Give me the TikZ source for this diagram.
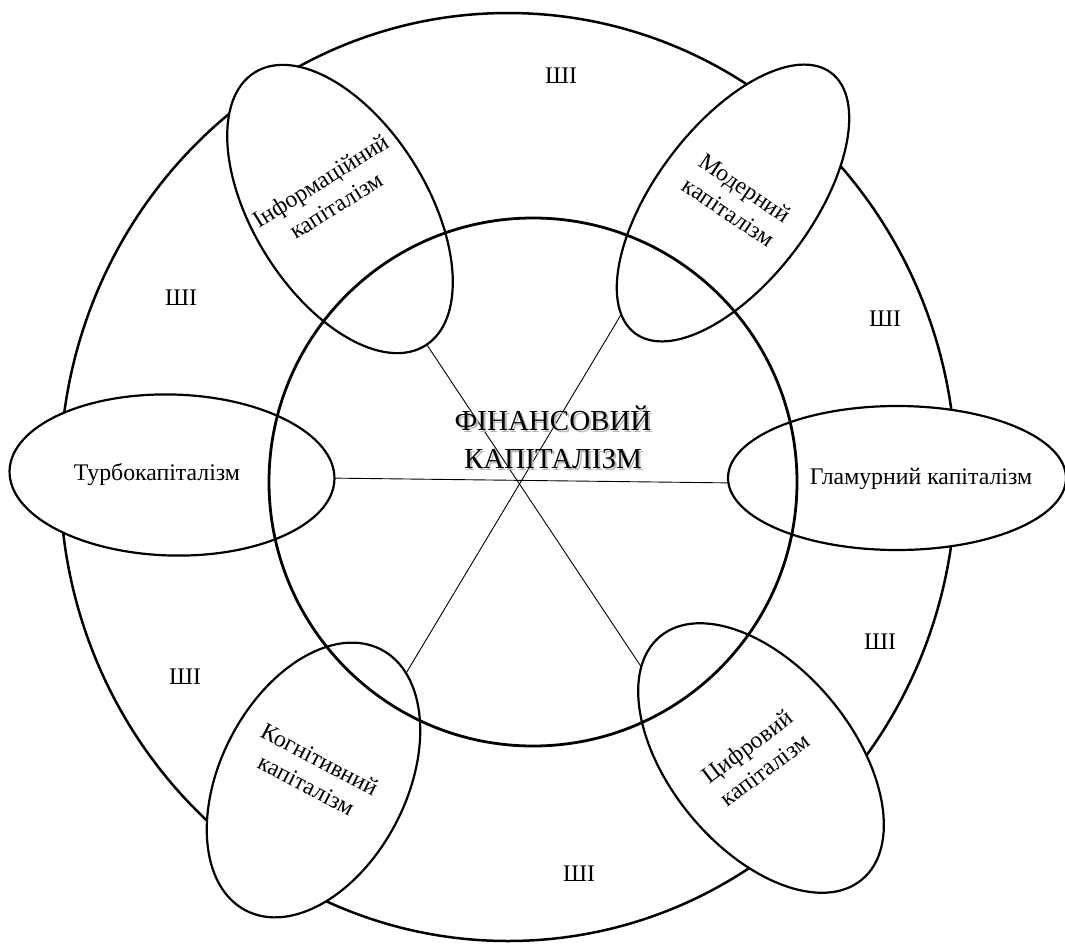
\documentclass[tikz,border=0pt]{standalone}
\usepackage{fontspec}
\setmainfont{Liberation Serif}
\usetikzlibrary{shapes.geometric}
\begin{document}
\begin{tikzpicture}[x=1pt,y=-1pt,
  oval/.style={draw, ellipse, fill=white, line width=2.2pt, inner sep=0pt},
  lbl/.style={font=\fontsize{23.8}{29}\selectfont, align=center, inner sep=0pt},
  ai/.style={font=\fontsize{23.8}{26}\selectfont, inner sep=0pt},
  spoke/.style={line width=0.9pt},
  ring/.style={line width=2.5pt},
  bigtext/.style={font=\fontsize{29}{38}\selectfont, align=center, inner sep=0pt}]
\useasboundingbox (0,0) rectangle (1065,945);
% outer ring
\draw[ring] (508,477) ellipse [x radius=448, y radius=464];
% spokes (ends hidden under the filled ovals)
\coordinate (s1a) at (421,336);
\coordinate (s1b) at (648,677);
\coordinate (s2a) at (631,298);
\coordinate (s2b) at (402,680);
\coordinate (s3a) at (325,478);
\coordinate (s3b) at (738,483);
\draw[spoke] (s1a) -- (s1b);
\draw[spoke] (s2a) -- (s2b);
\draw[spoke] (s3a) -- (s3b);
% ovals
\node[oval, minimum width=325pt, minimum height=161pt, rotate=-1.5] (turbo) at (172,475) {};
\node[oval, minimum width=338pt, minimum height=144pt] (glam) at (897,478) {};
\node[oval, minimum width=322pt, minimum height=174pt, rotate=-58] (info) at (340,209) {};
\node[oval, minimum width=326pt, minimum height=156pt, rotate=53] (moder) at (733,203) {};
\node[oval, minimum width=294pt, minimum height=186pt, rotate=62.6] (cogn) at (313.5,780) {};
\node[oval, minimum width=316pt, minimum height=182pt, rotate=-50.3] (digit) at (761,758) {};
% inner ring
\draw[ring, line width=2.8pt] (533,482) circle [radius=264];
% labels
\node[lbl, rotate=32] (infot) at (328,193) {Інформаційний\\капіталізм};
\node[lbl, rotate=-34] (modert) at (737,200) {Модерний\\капіталізм};
\node[lbl, rotate=-27.5] (cognt) at (313,772) {Когнітивний\\капіталізм};
\node[lbl, rotate=37] (digitt) at (756,758) {Цифровий\\капіталізм};
\node[lbl] (turbot) at (157,475) {Турбокапіталізм};
\node[lbl] (glamt) at (921,479) {Гламурний капіталізм};
% AI labels
\node[ai] (ai1) at (561,76) {ШІ};
\node[ai] (ai2) at (181,298) {ШІ};
\node[ai] (ai3) at (885,319) {ШІ};
\node[ai] (ai4) at (880,642) {ШІ};
\node[ai] (ai5) at (185,677) {ШІ};
\node[ai] (ai6) at (579,874) {ШІ};
% centre title with soft shadow
\node[bigtext, text=black!28] (finsh) at (555,439) {ФІНАНСОВИЙ\\КАПІТАЛІЗМ};
\node[bigtext, text=black] (fin) at (553,437) {ФІНАНСОВИЙ\\КАПІТАЛІЗМ};
\end{tikzpicture}
\end{document}
